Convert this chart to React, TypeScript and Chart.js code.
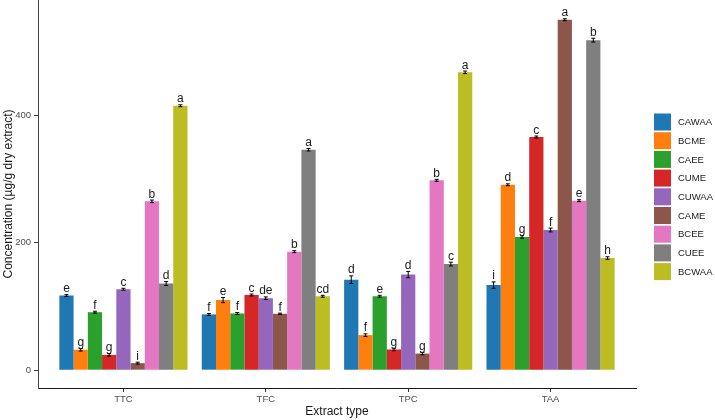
import React, { useEffect, useRef } from "react";
import { Chart, registerables } from "chart.js";

Chart.register(...registerables);

const categories = ["TTC", "TFC", "TPC", "TAA"];
const seriesNames = ["CAWAA", "BCME", "CAEE", "CUME", "CUWAA", "CAME", "BCEE", "CUEE", "BCWAA"];
const seriesColors = ["#1f77b4", "#ff7f0e", "#2ca02c", "#d62728", "#9467bd", "#8c564b", "#e377c2", "#7f7f7f", "#bcbd22"];

// mean values per series, in category order TTC, TFC, TPC, TAA
const cawaa = [117, 87.5, 142, 133.5];
const bcme = [32, 110, 55, 291];
const caee = [91, 89, 116, 209];
const cume = [24, 118, 32.5, 366];
const cuwaa = [127, 113, 150, 220];
const came = [11, 88.5, 26, 550];
const bcee = [265, 186, 298, 266];
const cuee = [136, 346, 166.5, 518];
const bcwaa = [415, 116, 467.5, 176];

// standard deviations
const errCawaa = [1.5, 1.5, 6, 5];
const errBcme = [2, 4, 2, 1.5];
const errCaee = [1.5, 1.5, 1.5, 2];
const errCume = [2, 1.5, 2, 1.5];
const errCuwaa = [1.5, 2, 5, 3];
const errCame = [1.5, 1, 2, 1.5];
const errBcee = [2, 1.5, 1.5, 1.5];
const errCuee = [3, 2, 3, 3];
const errBcwaa = [1.5, 1.5, 2, 2];

// significance letters
const letCawaa = ["e", "f", "d", "i"];
const letBcme = ["g", "e", "f", "d"];
const letCaee = ["f", "f", "e", "g"];
const letCume = ["g", "c", "g", "c"];
const letCuwaa = ["c", "de", "d", "f"];
const letCame = ["i", "f", "g", "a"];
const letBcee = ["b", "b", "b", "e"];
const letCuee = ["d", "a", "c", "b"];
const letBcwaa = ["a", "cd", "a", "h"];

const yTicks = [0, 200, 400];

const allValues = [cawaa, bcme, caee, cume, cuwaa, came, bcee, cuee, bcwaa];
const allErrors = [errCawaa, errBcme, errCaee, errCume, errCuwaa, errCame, errBcee, errCuee, errBcwaa];
const allLetters = [letCawaa, letBcme, letCaee, letCume, letCuwaa, letCame, letBcee, letCuee, letBcwaa];

const FONT = "'Liberation Sans', Arial, Helvetica, sans-serif";

const errorLetterPlugin = {
  id: "errorLetters",
  afterDatasetsDraw(chart: any) {
    const ctx = chart.ctx;
    const yScale = chart.scales.y;
    ctx.save();
    chart.data.datasets.forEach((ds: any, i: number) => {
      const meta = chart.getDatasetMeta(i);
      meta.data.forEach((bar: any, j: number) => {
        const v = allValues[i][j];
        const e = allErrors[i][j];
        const x = bar.x;
        const yT = yScale.getPixelForValue(v + e);
        const yB = yScale.getPixelForValue(v - e);
        ctx.strokeStyle = "#000";
        ctx.lineWidth = 1;
        ctx.beginPath();
        ctx.moveTo(x, yT);
        ctx.lineTo(x, yB);
        ctx.moveTo(x - 2, yT);
        ctx.lineTo(x + 2, yT);
        ctx.moveTo(x - 2, yB);
        ctx.lineTo(x + 2, yB);
        ctx.stroke();
        ctx.fillStyle = "#1a1a1a";
        ctx.font = `12px ${FONT}`;
        ctx.textAlign = "center";
        ctx.textBaseline = "alphabetic";
        ctx.fillText(allLetters[i][j], x, yT - 2.5);
      });
    });
    ctx.restore();
  },
};

const legendPlugin = {
  id: "sideLegend",
  afterDraw(chart: any) {
    const ctx = chart.ctx;
    ctx.save();
    const x0 = 654;
    const y0 = 113.5;
    const step = 18.7;
    seriesNames.forEach((name, i) => {
      const y = y0 + i * step;
      ctx.fillStyle = seriesColors[i];
      ctx.fillRect(x0, y, 17, 17);
      ctx.fillStyle = "#1a1a1a";
      ctx.font = `9.5px ${FONT}`;
      ctx.textAlign = "left";
      ctx.textBaseline = "middle";
      ctx.fillText(name, 678, y + 9);
    });
    ctx.restore();
  },
};

export default function App() {
  const ref = useRef<HTMLCanvasElement>(null);
  useEffect(() => {
    if (!ref.current) return;
    const chart = new Chart(ref.current, {
      type: "bar",
      data: {
        datasets: seriesNames.map((name, i) => ({
          label: name,
          data: allValues[i].map((v, j) => ({ x: j + 1, y: v })),
          backgroundColor: seriesColors[i],
          borderWidth: 0,
          categoryPercentage: 0.9,
          barPercentage: 1.0,
        })),
      },
      options: {
        responsive: false,
        animation: false,
        layout: { padding: { left: 0, top: 0, right: 79, bottom: 0 } },
        plugins: {
          legend: { display: false },
          tooltip: { enabled: false },
        },
        scales: {
          x: {
            type: "linear",
            min: 0.4,
            max: 4.6,
            offset: false,
            afterBuildTicks: (scale: any) => {
              scale.ticks = categories.map((_, i) => ({ value: i + 1 }));
            },
            afterFit: (scale: any) => {
              scale.height = 32;
              scale.paddingLeft = 0;
              scale.paddingRight = 0;
            },
            ticks: {
              autoSkip: false,
              maxRotation: 0,
              padding: 2,
              color: "#4d4d4d",
              font: { family: FONT, size: 9.5 },
              callback: (v: any) => categories[Math.round(Number(v)) - 1] ?? "",
            },
            grid: {
              display: true,
              offset: false,
              drawOnChartArea: false,
              drawTicks: true,
              tickLength: 4,
              tickColor: "#333",
              tickWidth: 1,
            },
            border: { display: true, color: "#1a1a1a", width: 1 },
            title: {
              display: true,
              text: "Extract type",
              color: "#1a1a1a",
              font: { family: FONT, size: 12 },
              padding: { top: 0, bottom: 1 },
            },
          },
          y: {
            type: "linear",
            min: -28,
            max: 581,
            afterBuildTicks: (scale: any) => {
              scale.ticks = yTicks.map((v) => ({ value: v }));
            },
            afterFit: (scale: any) => {
              scale.width = 38;
              scale.paddingTop = 0;
              scale.paddingBottom = 0;
            },
            ticks: {
              padding: 3,
              color: "#4d4d4d",
              font: { family: FONT, size: 9.5 },
            },
            grid: {
              display: true,
              drawOnChartArea: false,
              drawTicks: true,
              tickLength: 4,
              tickColor: "#333",
              tickWidth: 1,
            },
            border: { display: true, color: "#444", width: 1 },
            title: {
              display: true,
              text: "Concentration (µg/g dry extract)",
              color: "#1a1a1a",
              font: { family: FONT, size: 12 },
              padding: { top: 1, bottom: 0 },
            },
          },
        },
      },
      plugins: [errorLetterPlugin, legendPlugin],
    });
    return () => chart.destroy();
  }, []);
  return (
    <div style={{ position: "absolute", left: 0, top: 0, width: 715, height: 420, background: "#fff" }}>
      <canvas ref={ref} width={715} height={420} style={{ display: "block" }} />
    </div>
  );
}
